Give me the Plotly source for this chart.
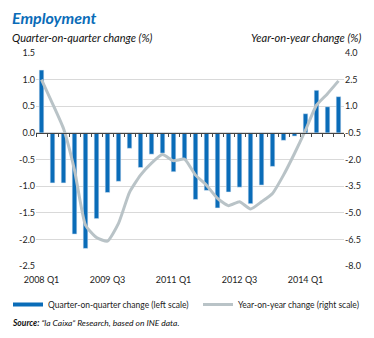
import plotly.graph_objects as go

# ---- data ----
years = [2008, 2009, 2010, 2011, 2012, 2013, 2014]
quarters = [f"{y} Q{q}" for y in years for q in range(1, 5)]
qoq = [1.18, -0.94, -0.94, -1.90, -2.17, -1.61, -1.12, -0.91,
       -0.29, -0.65, -0.40, -0.38, -0.73, -0.50, -1.25, -1.08,
       -1.41, -1.11, -1.02, -1.33, -0.98, -0.63, -0.14, -0.06,
       0.36, 0.80, 0.49, 0.68]
yoy = [2.50, 1.15, -0.26, -2.60, -5.70, -6.40, -6.60, -5.60,
       -3.85, -2.88, -2.20, -1.72, -2.07, -1.98, -2.88, -3.45,
       -4.19, -4.60, -4.38, -4.79, -4.38, -3.91, -2.88, -1.66,
       -0.35, 1.06, 1.71, 2.43]
left_ticks = [1.5, 1.0, 0.5, 0.0, -0.5, -1.0, -1.5, -2.0, -2.5]
right_ticks = [4.0, 2.5, 1.0, -0.5, -2.0, -3.5, -5.0, -6.5, -8.0]
label_every = 6
name_bar = "Quarter-on-quarter change (left scale)"
name_line = "Year-on-year change (right scale)"

BLUE = "#0a6cb8"
GREY = "#b9c3c7"
FONT = "Lato"

W, H = 374, 338
L, R, T, B = 36, 30, 53, 72
pw, ph = W - L - R, H - T - B

def px(x):
    return (x - L) / pw

def py(y):
    return (H - B - y) / ph

idx = list(range(len(quarters)))
tickvals = idx[::label_every]
ticktext = quarters[::label_every]

fig = go.Figure()
fig.add_trace(go.Bar(x=idx, y=qoq, marker_color=BLUE, width=0.42,
                     showlegend=False, yaxis="y"))
fig.add_trace(go.Scatter(x=idx, y=yoy, mode="lines",
                         line=dict(color=GREY, width=3, shape="spline",
                                   smoothing=0.5),
                         showlegend=False, yaxis="y2"))
# legend entries
fig.add_trace(go.Scatter(x=[None], y=[None], mode="lines", name=name_bar,
                         line=dict(color=BLUE, width=4), legend="legend"))
fig.add_trace(go.Scatter(x=[None], y=[None], mode="lines", name=name_line,
                         line=dict(color=GREY, width=3), legend="legend2"))
# invisible trace so the zero-line axis is drawn
fig.add_trace(go.Scatter(x=[None], y=[None], xaxis="x2", showlegend=False))

lrange = [min(left_ticks), max(left_ticks)]
zero_pos = (0 - lrange[0]) / (lrange[1] - lrange[0])
xr = [-0.5, len(quarters) - 0.5]

leg_common = dict(orientation="h", xref="container", yref="container",
                  xanchor="left", y=1 - 290 / H, yanchor="top",
                  font=dict(size=8.5, color="#222"),
                  bgcolor="rgba(0,0,0,0)", itemwidth=30)

fig.update_layout(
    width=W, height=H,
    margin=dict(l=L, r=R, t=T, b=B, autoexpand=False),
    paper_bgcolor="white", plot_bgcolor="white",
    font=dict(family=FONT, size=9, color="#222"),
    xaxis=dict(range=xr, tickvals=tickvals, ticktext=ticktext,
               showgrid=False, zeroline=False, showline=False, ticks="",
               ticklabelstandoff=7,
               automargin=False, tickfont=dict(size=9, color="#222")),
    xaxis2=dict(range=xr, overlaying="x", anchor="free", position=zero_pos,
                side="bottom", showline=True, linecolor="#444", linewidth=1,
                ticks="outside", ticklen=3, tickcolor="#444", tickwidth=1,
                tickvals=[i - 0.5 for i in range(len(quarters) + 1)],
                showticklabels=False, showgrid=False, zeroline=False),
    yaxis=dict(range=lrange, tickvals=left_ticks,
               ticktext=[f"{v:.1f}" for v in left_ticks],
               showgrid=True, gridcolor="#d9d9d9", gridwidth=1,
               zeroline=False, showline=False, ticks="", automargin=False,
               tickfont=dict(size=9, color="#222")),
    yaxis2=dict(range=[min(right_ticks), max(right_ticks)], overlaying="y",
                side="right", tickvals=right_ticks,
                ticktext=[f"{v:.1f}" for v in right_ticks],
                showgrid=False, zeroline=False, showline=False, ticks="",
                automargin=False, tickfont=dict(size=9, color="#222")),
    legend=dict(x=8 / W, **leg_common),
    legend2=dict(x=198 / W, **leg_common),
    showlegend=True,
)

ann = [
    dict(text="<b><i>Employment</i></b>", x=px(10), y=py(17), xanchor="left",
         yanchor="middle", font=dict(size=16, color=BLUE, family=FONT)),
    dict(text="<i>Quarter-on-quarter change (%)</i>", x=px(10), y=py(37),
         xanchor="left", yanchor="middle", font=dict(size=11, color="#111")),
    dict(text="<i>Year-on-year change (%)</i>", x=px(363), y=py(37),
         xanchor="right", yanchor="middle", font=dict(size=11, color="#111")),
    dict(text="<b><i>Source:</i></b><i> \u201cla Caixa\u201d Research, based on INE data.</i>",
         x=px(10), y=py(323), xanchor="left", yanchor="middle",
         font=dict(size=8.5, color="#111")),
]
for a in ann:
    a.update(xref="paper", yref="paper", showarrow=False)
fig.update_layout(annotations=ann)

fig.write_html("out.html")
